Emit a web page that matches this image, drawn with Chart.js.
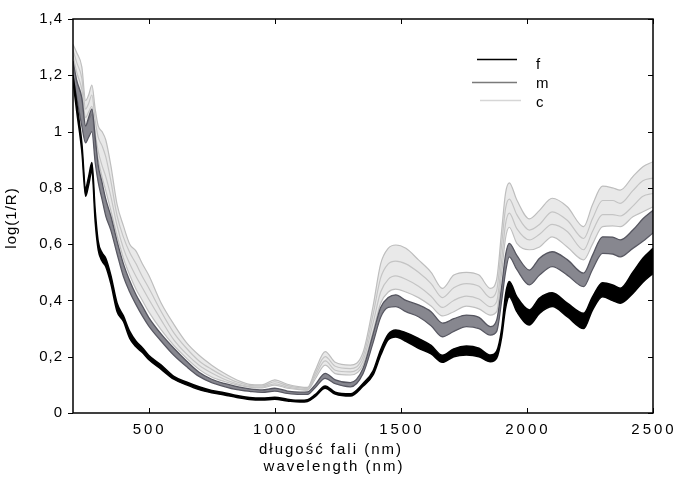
<!DOCTYPE html>
<html>
<head>
<meta charset="utf-8">
<script src="https://cdn.jsdelivr.net/npm/chart.js@4.4.1/dist/chart.umd.min.js"></script>
<style>
  body { margin: 0; background: #fff; }
  #wrap { width: 673px; height: 477px; }
</style>
</head>
<body>
<div id="wrap"><canvas id="myChart" width="673" height="477"></canvas></div>
<script>
// wavelength (nm)
var wl = [200, 215, 235, 250, 262, 275, 288, 300, 315, 330,
          350, 375, 400, 425, 450, 475, 500, 550, 600, 650,
          700, 750, 800, 850, 900, 950, 1000, 1050, 1100, 1130,
          1160, 1200, 1240, 1300, 1350, 1390, 1420, 1450, 1480, 1520,
          1570, 1620, 1665, 1710, 1760, 1810, 1855, 1880, 1900, 1915,
          1930, 1960, 2010, 2050, 2100, 2160, 2225, 2260, 2300, 2340,
          2370, 2420, 2460, 2500];

// f - upper / lower edge of the black bundle
var fTop = [1.20, 1.10, 0.96, 0.80, 0.84, 0.89, 0.72, 0.61, 0.57, 0.55,
            0.49, 0.39, 0.345, 0.29, 0.255, 0.232, 0.205, 0.17, 0.13, 0.11,
            0.093, 0.08, 0.072, 0.062, 0.055, 0.053, 0.056, 0.049, 0.045, 0.047,
            0.065, 0.096, 0.074, 0.068, 0.105, 0.15, 0.225, 0.28, 0.295, 0.285,
            0.265, 0.24, 0.205, 0.228, 0.238, 0.23, 0.206, 0.22, 0.30, 0.42,
            0.467, 0.413, 0.366, 0.408, 0.427, 0.39, 0.354, 0.413, 0.463, 0.455,
            0.443, 0.50, 0.55, 0.585];
var fBot = [1.18, 1.07, 0.93, 0.77, 0.81, 0.86, 0.68, 0.58, 0.54, 0.52,
            0.46, 0.36, 0.325, 0.265, 0.235, 0.215, 0.19, 0.155, 0.12, 0.10,
            0.083, 0.072, 0.064, 0.055, 0.048, 0.046, 0.049, 0.043, 0.039, 0.041,
            0.058, 0.088, 0.067, 0.06, 0.095, 0.135, 0.205, 0.26, 0.27, 0.255,
            0.23, 0.21, 0.18, 0.2, 0.206, 0.2, 0.182, 0.195, 0.27, 0.37,
            0.413, 0.36, 0.313, 0.354, 0.378, 0.342, 0.30, 0.366, 0.413, 0.40,
            0.39, 0.425, 0.465, 0.496];

// m - dark grey bundle
var mTop = [1.25, 1.18, 1.12, 1.02, 1.05, 1.08, 0.98, 0.88, 0.82, 0.76,
            0.70, 0.61, 0.53, 0.47, 0.42, 0.38, 0.34, 0.28, 0.23, 0.185,
            0.145, 0.12, 0.105, 0.094, 0.086, 0.082, 0.088, 0.078, 0.074, 0.075,
            0.10, 0.141, 0.118, 0.108, 0.158, 0.28, 0.375, 0.41, 0.42, 0.40,
            0.384, 0.36, 0.319, 0.335, 0.348, 0.34, 0.307, 0.33, 0.45, 0.56,
            0.603, 0.56, 0.508, 0.55, 0.573, 0.545, 0.497, 0.56, 0.626, 0.625,
            0.615, 0.65, 0.69, 0.72];
var mBot = [1.20, 1.12, 1.02, 0.96, 0.98, 1.0, 0.89, 0.82, 0.76, 0.70,
            0.65, 0.565, 0.485, 0.43, 0.385, 0.345, 0.31, 0.255, 0.205, 0.165,
            0.13, 0.108, 0.094, 0.083, 0.077, 0.073, 0.078, 0.07, 0.066, 0.066,
            0.09, 0.123, 0.104, 0.093, 0.14, 0.25, 0.34, 0.375, 0.378, 0.36,
            0.342, 0.31, 0.271, 0.29, 0.307, 0.30, 0.277, 0.29, 0.40, 0.50,
            0.555, 0.51, 0.455, 0.49, 0.52, 0.49, 0.449, 0.51, 0.567, 0.565,
            0.555, 0.585, 0.61, 0.64];

// c - light grey bundle (top, two inner lines, bottom)
var cTop = [1.31, 1.28, 1.23, 1.11, 1.13, 1.165, 1.08, 1.02, 1.0, 0.97,
            0.88, 0.74, 0.665, 0.60, 0.575, 0.53, 0.49, 0.39, 0.315, 0.25,
            0.205, 0.17, 0.141, 0.117, 0.102, 0.10, 0.118, 0.102, 0.093, 0.091,
            0.15, 0.218, 0.18, 0.17, 0.215, 0.38, 0.53, 0.585, 0.597, 0.585,
            0.544, 0.50, 0.443, 0.49, 0.50, 0.49, 0.443, 0.475, 0.65, 0.78,
            0.818, 0.757, 0.69, 0.72, 0.763, 0.733, 0.662, 0.74, 0.806, 0.80,
            0.792, 0.84, 0.875, 0.893];
var cA   = [1.29, 1.245, 1.19, 1.08, 1.10, 1.13, 1.04, 0.98, 0.95, 0.91,
            0.825, 0.70, 0.625, 0.57, 0.53, 0.485, 0.445, 0.36, 0.285, 0.23,
            0.185, 0.155, 0.13, 0.11, 0.098, 0.096, 0.111, 0.097, 0.089, 0.087,
            0.14, 0.2, 0.166, 0.158, 0.2, 0.35, 0.48, 0.53, 0.54, 0.53,
            0.5, 0.46, 0.41, 0.445, 0.46, 0.45, 0.41, 0.435, 0.6, 0.725,
            0.76, 0.705, 0.65, 0.67, 0.715, 0.685, 0.62, 0.69, 0.755, 0.755,
            0.745, 0.79, 0.825, 0.835];
var cB   = [1.27, 1.21, 1.15, 1.05, 1.07, 1.09, 0.995, 0.93, 0.88, 0.84,
            0.77, 0.665, 0.585, 0.53, 0.485, 0.445, 0.405, 0.33, 0.26, 0.21,
            0.17, 0.142, 0.12, 0.104, 0.094, 0.092, 0.104, 0.092, 0.085, 0.083,
            0.13, 0.185, 0.152, 0.146, 0.185, 0.32, 0.43, 0.475, 0.487, 0.475,
            0.45, 0.415, 0.375, 0.4, 0.415, 0.405, 0.378, 0.395, 0.545, 0.67,
            0.71, 0.655, 0.615, 0.635, 0.67, 0.645, 0.58, 0.645, 0.705, 0.705,
            0.70, 0.735, 0.77, 0.78];
var cBot = [1.25, 1.18, 1.12, 1.02, 1.04, 1.06, 0.96, 0.90, 0.84, 0.79,
            0.72, 0.63, 0.55, 0.49, 0.44, 0.40, 0.36, 0.295, 0.24, 0.195,
            0.155, 0.128, 0.112, 0.1, 0.092, 0.089, 0.099, 0.088, 0.083, 0.081,
            0.12, 0.17, 0.14, 0.135, 0.17, 0.29, 0.39, 0.43, 0.44, 0.43,
            0.41, 0.38, 0.345, 0.36, 0.38, 0.37, 0.348, 0.36, 0.50, 0.62,
            0.66, 0.603, 0.58, 0.59, 0.626, 0.59, 0.544, 0.60, 0.662, 0.665,
            0.662, 0.697, 0.715, 0.733];

var xTicks = [500, 1000, 1500, 2000, 2500];
var yTicks = [0, 0.2, 0.4, 0.6, 0.8, 1, 1.2, 1.4];
var legendNames = ['f', 'm', 'c'];
var legendColors = ['#000000', '#7a7a7a', '#d6d6d6'];

var FONT = '"Liberation Sans", Arial, sans-serif';

function pts(arr) {
    return wl.map(function (w, i) { return { x: w, y: arr[i] }; });
}

function line(ctx, x1, y1, x2, y2) {
    ctx.beginPath();
    ctx.moveTo(x1, y1);
    ctx.lineTo(x2, y2);
    ctx.stroke();
}

// frame, inward ticks, x labels, axis titles and legend
var decor = {
    id: 'decor',
    beforeDraw: function (chart) {
        chart.ctx.letterSpacing = '1px';
    },
    afterDraw: function (chart) {
        var ctx = chart.ctx, a = chart.chartArea;
        var xs = chart.scales.x, ys = chart.scales.y;
        ctx.save();
        ctx.strokeStyle = '#000';
        ctx.lineWidth = 1.5;
        ctx.strokeRect(a.left, a.top, a.right - a.left, a.bottom - a.top);

        ctx.lineWidth = 1;
        xTicks.forEach(function (v) {
            var x = Math.round(xs.getPixelForValue(v)) + 0.5;
            line(ctx, x, a.bottom, x, a.bottom - 5);
            line(ctx, x, a.top, x, a.top + 5);
        });
        yTicks.forEach(function (v) {
            var y = Math.round(ys.getPixelForValue(v)) + 0.5;
            line(ctx, a.left - 5, y, a.left, y);
            line(ctx, a.right - 5, y, a.right, y);
        });

        ctx.fillStyle = '#000';
        ctx.font = '15px ' + FONT;
        ctx.textBaseline = 'alphabetic';
        ctx.textAlign = 'center';
        ctx.letterSpacing = '3px';
        xTicks.forEach(function (v) {
            ctx.fillText(String(v), xs.getPixelForValue(v) + 1, 433.5);
        });

        ctx.letterSpacing = '2px';
        ctx.fillText('długość fali (nm)', 331, 454);
        ctx.fillText('wavelength (nm)', 334, 471);

        ctx.save();
        ctx.letterSpacing = '1px';
        ctx.translate(12, 218);
        ctx.rotate(-Math.PI / 2);
        ctx.textBaseline = 'middle';
        ctx.fillText('log(1/R)', 0, 0);
        ctx.restore();

        // legend
        var ly = [59.5, 82.5, 100.5];
        var lx = [[477, 517], [472, 517], [480, 521]];
        var ty = [69, 88, 107];
        ctx.letterSpacing = '0px';
        ctx.textAlign = 'left';
        ctx.lineWidth = 1.5;
        legendNames.forEach(function (n, i) {
            ctx.strokeStyle = legendColors[i];
            line(ctx, lx[i][0], ly[i], lx[i][1], ly[i]);
            ctx.fillText(n, 536, ty[i]);
        });
        ctx.restore();
    }
};

function ds(label, arr, color, width, fill, bg) {
    return {
        label: label,
        data: pts(arr),
        borderColor: color,
        borderWidth: width,
        backgroundColor: bg || color,
        fill: fill || false,
        pointRadius: 0,
        cubicInterpolationMode: 'monotone'
    };
}

var ctx = document.getElementById('myChart');

var myChart = new Chart(ctx, {
    type: 'line',
    data: {
        datasets: [
            ds('f', fTop, '#000000', 1.5, '+1', '#000000'),
            ds('f', fBot, '#000000', 1.5),
            ds('m', mTop, '#55555f', 1.3, '+1', 'rgba(95,95,105,0.75)'),
            ds('m', mBot, '#55555f', 1.3),
            ds('c', cTop, '#bebebe', 1.2, '+3', 'rgba(200,200,200,0.4)'),
            ds('c', cA, '#c2c2c2', 1.2),
            ds('c', cB, '#c2c2c2', 1.2),
            ds('c', cBot, '#bebebe', 1.2)
        ]
    },
    options: {
        responsive: false,
        animation: false,
        devicePixelRatio: 1,
        layout: { padding: { left: 0, right: 20, top: 19, bottom: 0 } },
        plugins: {
            legend: { display: false },
            tooltip: { enabled: false }
        },
        scales: {
            x: {
                type: 'linear',
                min: 200,
                max: 2500,
                grid: { display: false, drawTicks: false },
                border: { display: false },
                ticks: { display: false },
                afterBuildTicks: function (s) { s.ticks = xTicks.map(function (v) { return { value: v }; }); },
                afterFit: function (s) { s.height = 64; }
            },
            y: {
                min: 0,
                max: 1.4,
                grid: { display: false, drawTicks: false },
                border: { display: false },
                ticks: {
                    color: '#000',
                    padding: 10,
                    font: { family: FONT, size: 15 },
                    callback: function (v) { return String(v).replace('.', ','); }
                },
                afterBuildTicks: function (s) { s.ticks = yTicks.map(function (v) { return { value: v }; }); },
                afterFit: function (s) { s.width = 73; }
            }
        }
    },
    plugins: [decor]
});
</script>
</body>
</html>
